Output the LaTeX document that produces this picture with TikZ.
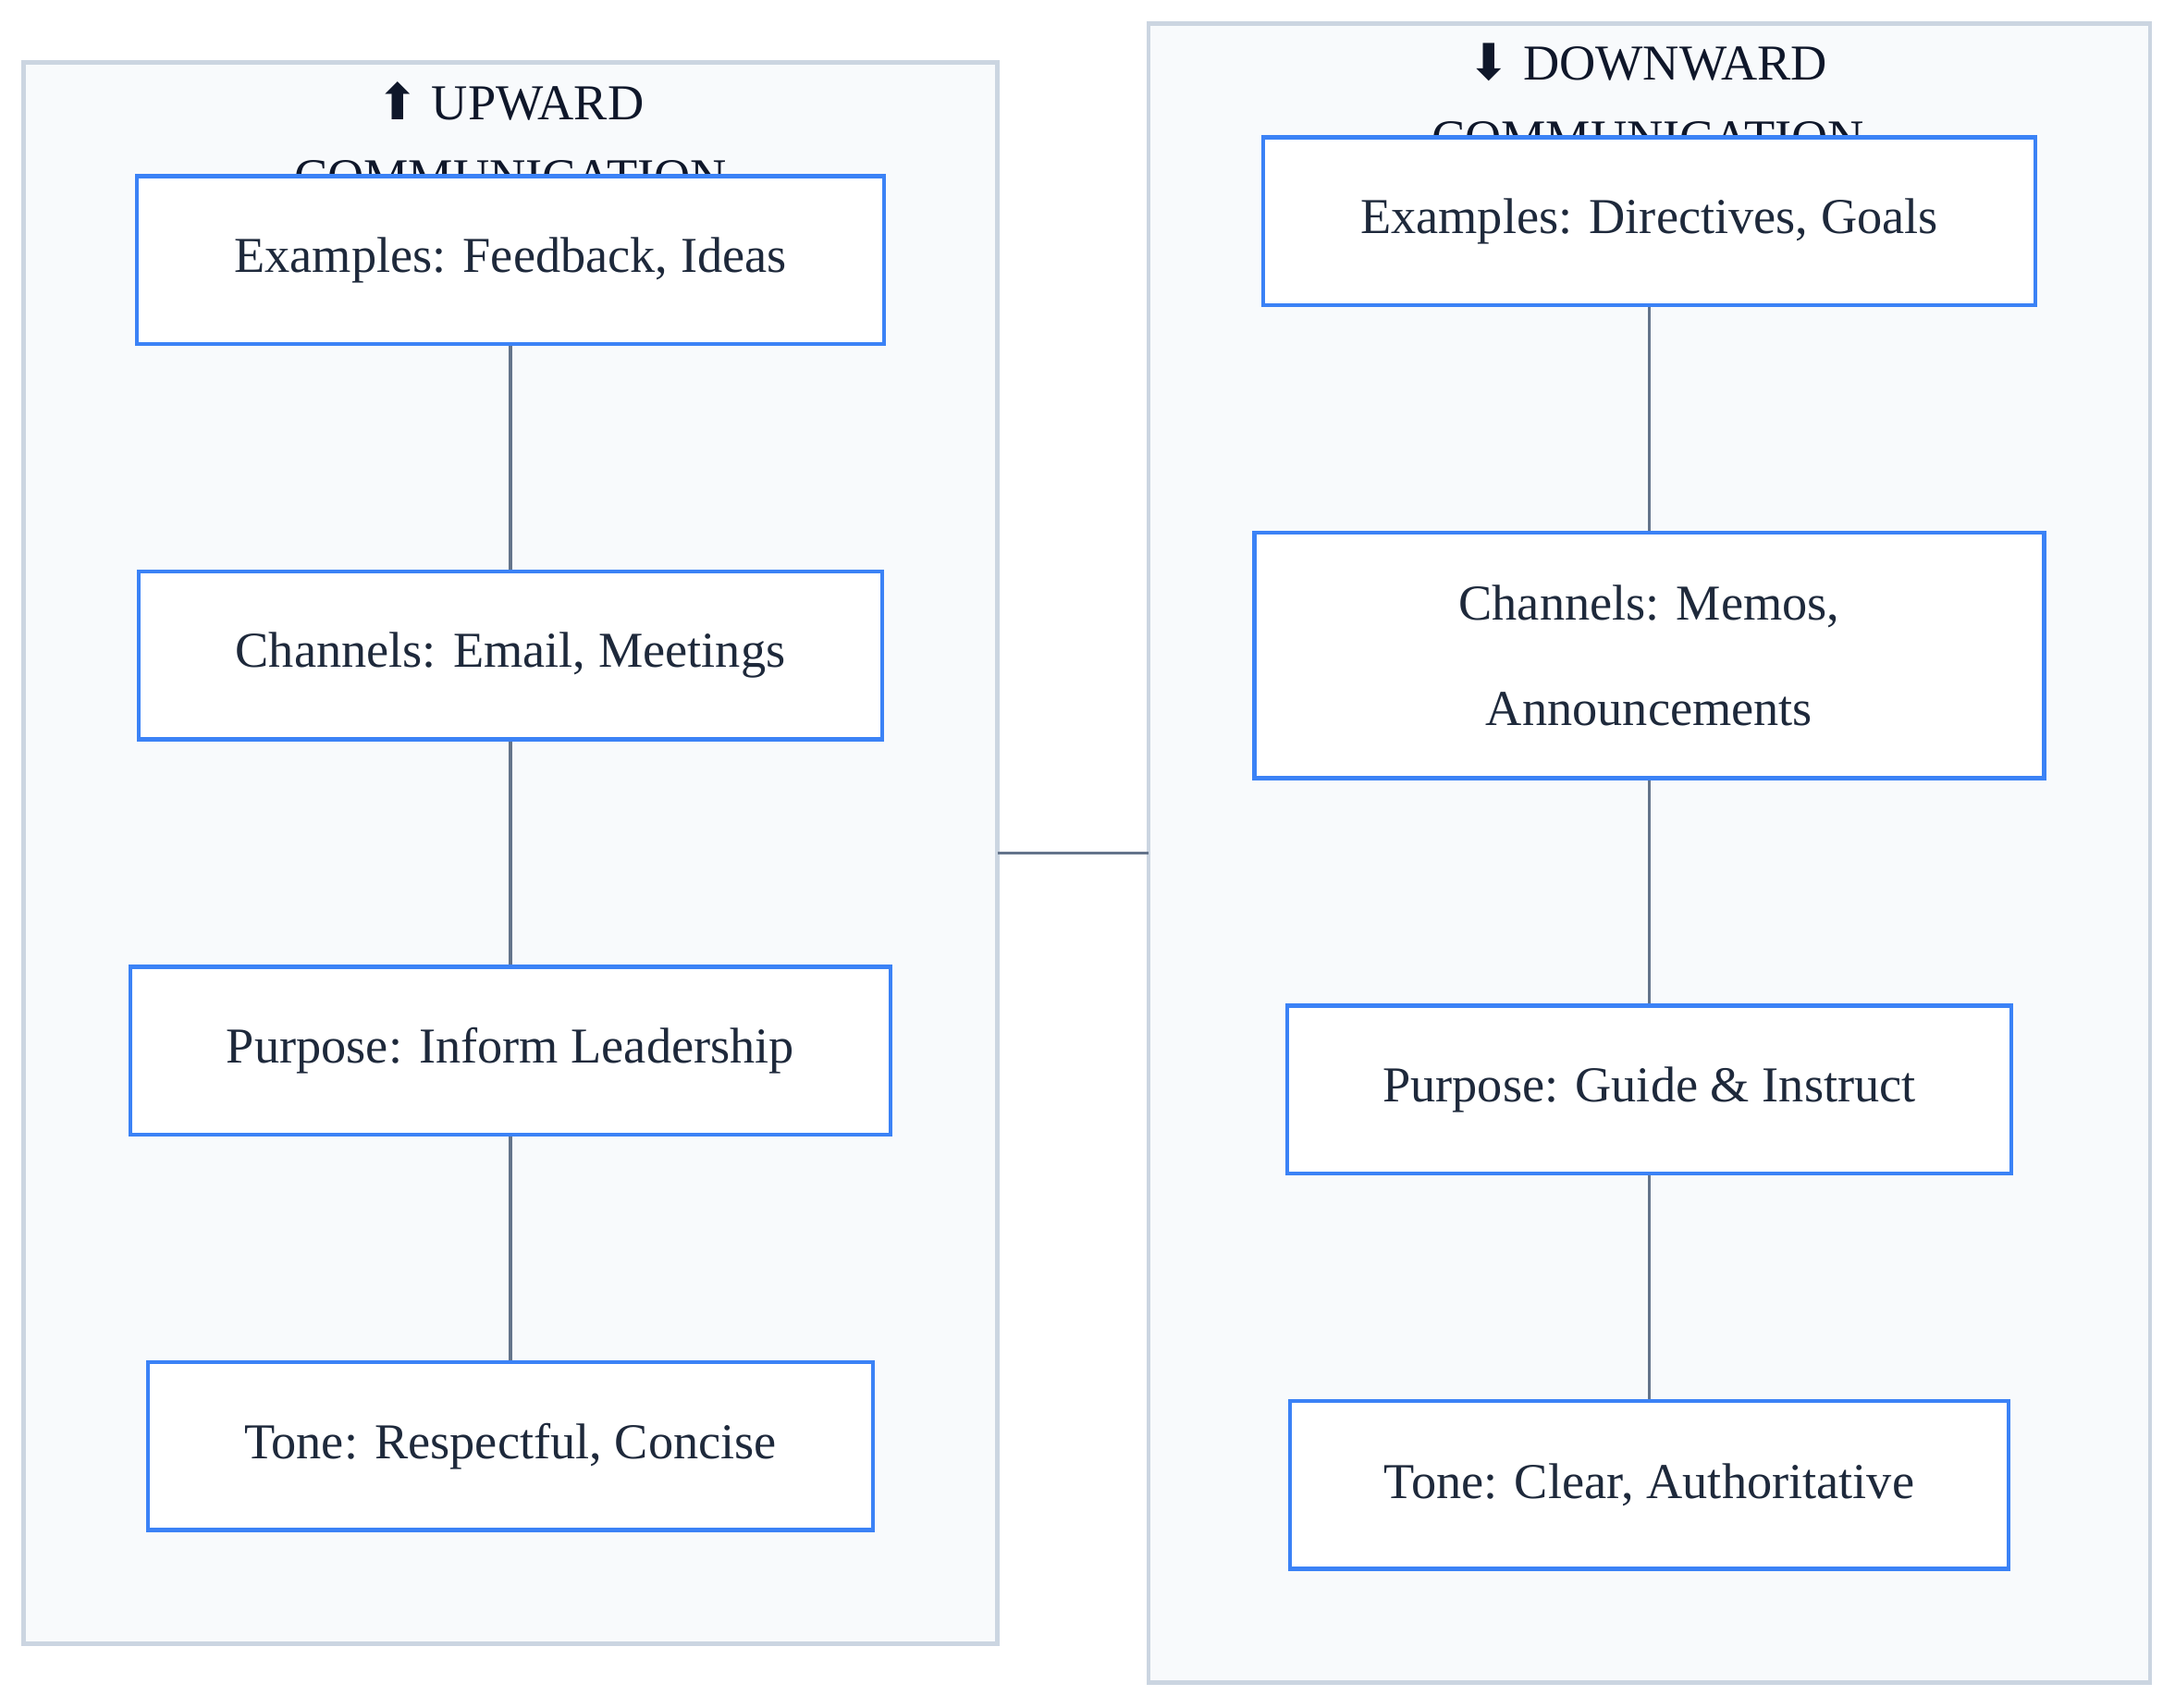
\documentclass[tikz,border=0pt]{standalone}
\usepackage{fontspec}
\setmainfont{Liberation Serif}
\newfontfamily\symfont{DejaVu Sans}
\definecolor{panelfill}{HTML}{F8FAFC}
\definecolor{paneldraw}{HTML}{CBD5E1}
\definecolor{boxdraw}{HTML}{3B82F6}
\definecolor{linkgray}{HTML}{64748B}
\definecolor{titleink}{HTML}{0F172A}
\definecolor{textink}{HTML}{1E293B}
\tikzset{
  panel/.style={draw=paneldraw, fill=panelfill, line width=0.8pt},
  item/.style={draw=boxdraw, fill=white, line width=0.8pt, text=textink,
    font=\fontsize{10.3}{16}\selectfont, align=center, inner sep=0pt},
  link/.style={draw=linkgray, line width=0.7pt},
  ttl/.style={text=titleink, font=\fontsize{10.3}{16}\selectfont, align=center}
}
\begin{document}
\begin{tikzpicture}[x=0.01cm,y=-0.01cm]
		\useasboundingbox (0,0) rectangle (1568,1231);
		\draw [panel] (17,45) rectangle (719,1185);
		\draw [panel] (828,17) rectangle (1550,1213);
		\coordinate (Lside) at (719,615);
		\coordinate (Rside) at (828,615);
		\draw [link] (Lside) -- (Rside);
		\node [ttl] (upT1) at (368,73) {{\symfont\char"2B06}\ UPWARD};
		\node [ttl] (upT2) at (368,128) {COMMUNICATION};
		\node [ttl] (dnT1) at (1188,45) {{\symfont\char"2B07}\ DOWNWARD};
		\node [ttl] (dnT2) at (1188,100) {COMMUNICATION};
		% upward column
		\node [item, minimum width=5.38cm, minimum height=1.21cm] (upEx) at (368,187.5) {Examples: Feedback, Ideas};
		\node [item, minimum width=5.36cm, minimum height=1.21cm] (upCh) at (368,472.5) {Channels: Email, Meetings};
		\node [item, minimum width=5.48cm, minimum height=1.21cm] (upPu) at (368,757.5) {Purpose: Inform Leadership};
		\node [item, minimum width=5.22cm, minimum height=1.21cm] (upTo) at (368,1042.5) {Tone: Respectful, Concise};
		% downward column
		\node [item, minimum width=5.56cm, minimum height=1.21cm] (dnEx) at (1189,159.5) {Examples: Directives, Goals};
		\node [item, minimum width=5.69cm, minimum height=1.77cm] (dnCh) at (1189,472.5) {Channels: Memos,\\[0.2cm] Announcements};
		\node [item, minimum width=5.22cm, minimum height=1.21cm] (dnPu) at (1189,785.5) {Purpose: Guide \& Instruct};
		\node [item, minimum width=5.18cm, minimum height=1.21cm] (dnTo) at (1189,1070.5) {Tone: Clear, Authoritative};
		\draw [link] (upEx) -- (upCh);
		\draw [link] (upCh) -- (upPu);
		\draw [link] (upPu) -- (upTo);
		\draw [link] (dnEx) -- (dnCh);
		\draw [link] (dnCh) -- (dnPu);
		\draw [link] (dnPu) -- (dnTo);
	\end{tikzpicture}
\end{document}
